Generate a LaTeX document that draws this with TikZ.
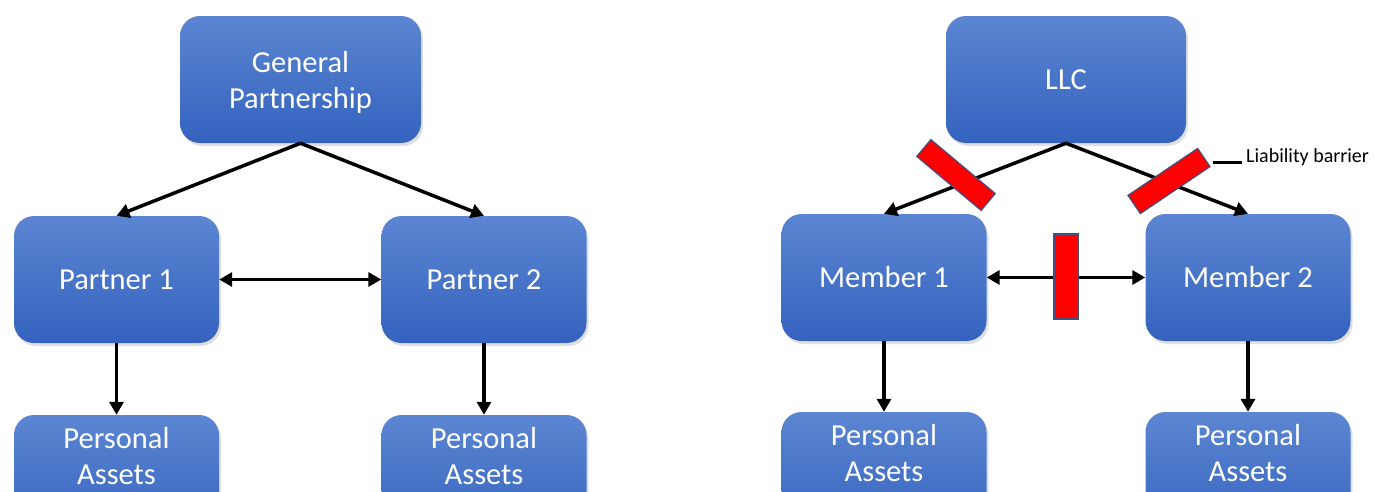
\documentclass[tikz,border=0pt]{standalone}
\usepackage{fontspec}
\setmainfont{Carlito}
\usetikzlibrary{arrows.meta,shadows}
\definecolor{btop}{RGB}{92,134,210}
\definecolor{bbot}{RGB}{52,98,190}
\definecolor{bedge}{RGB}{65,80,125}
\tikzset{
  entbox/.style={rounded corners=20pt, top color=btop, bottom color=bbot, draw=none,
    minimum width=205pt, minimum height=127pt, inner sep=0pt, align=center,
    text=white, font=\fontsize{30.5}{37}\selectfont,
    drop shadow={opacity=0.25, shadow xshift=2pt, shadow yshift=-3pt}},
  boxtext/.style={text=white, align=center, font=\fontsize{30.5}{36}\selectfont, inner sep=0pt},
  arr/.style={line width=3.5pt, -{Triangle[length=13pt,width=14pt]}},
  darr/.style={line width=3.5pt, {Triangle[length=13pt,width=14pt]}-{Triangle[length=13pt,width=14pt]}},
  barrier/.style={fill=red, draw=bedge, line width=1.2pt, inner sep=0pt},
}
\begin{document}
\begin{tikzpicture}[x=1pt,y=-1pt]
\useasboundingbox (0,0) rectangle (1374,491);
\clip (0,0) rectangle (1374,491);
% left: general partnership
\node[entbox, minimum width=241pt] (gp) at (300.5,79.5) {};
\node[boxtext, align=center] (gpt) at (300.5,82) {General\\Partnership};
\node[entbox] (p1) at (116.5,279.5) {Partner 1};
\node[entbox] (p2) at (484,279.5) {Partner 2};
\node[entbox] (pa1) at (116.5,478.5) {};
\node[boxtext] (pa1t) at (116.5,456) {Personal\\Assets};
\node[entbox] (pa2) at (484,478.5) {};
\node[boxtext] (pa2t) at (484,456) {Personal\\Assets};
\draw[arr] (gp.south) -- (p1.north);
\draw[arr] (gp.south) -- (p2.north);
\draw[darr] (p1.east) -- (p2.west);
\draw[arr] (p1.south) -- (pa1.north);
\draw[arr] (p2.south) -- (pa2.north);
% right: LLC
\node[entbox, minimum width=240pt] (llc) at (1066,79.5) {LLC};
\node[entbox] (m1) at (884,277.5) {Member 1};
\node[entbox] (m2) at (1248,277.5) {Member 2};
\node[entbox] (pa3) at (884,475.5) {};
\node[boxtext] (pa3t) at (884,453) {Personal\\Assets};
\node[entbox] (pa4) at (1248,475.5) {};
\node[boxtext] (pa4t) at (1248,453) {Personal\\Assets};
\draw[arr] (llc.south) -- (m1.north);
\draw[arr] (llc.south) -- (m2.north);
\draw[darr] (m1.east) -- (m2.west);
\draw[arr] (m1.south) -- (pa3.north);
\draw[arr] (m2.south) -- (pa4.north);
% barriers
\node[barrier, minimum width=84pt, minimum height=22pt, rotate=-40] (b1) at (956,175) {};
\node[barrier, minimum width=84pt, minimum height=22pt, rotate=34] (b2) at (1169,181) {};
\node[barrier, minimum width=24pt, minimum height=85pt] (b3) at (1066,276.5) {};
\node[anchor=west, inner sep=0pt, font=\fontsize{20}{24}\selectfont] (lbl) at (1246,157) {Liability barrier};
\coordinate (lb) at (1213,162);
\draw[line width=3pt, shorten >=4pt] (lb) -- (lb -| lbl.west);
\end{tikzpicture}
\end{document}
